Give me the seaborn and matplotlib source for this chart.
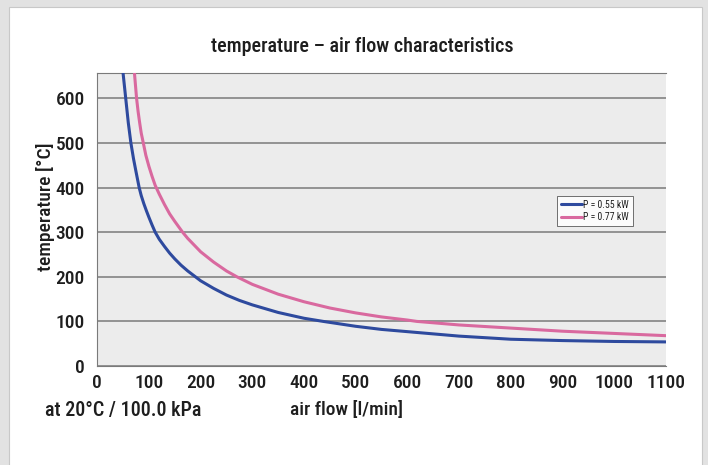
import pandas as pd
import seaborn as sns
import matplotlib.pyplot as plt
from matplotlib.patches import Rectangle

# values
flow_055 = [47, 50, 55, 60, 65, 70, 75, 81, 85, 90, 95, 100, 106, 112, 120, 130, 140, 150, 162, 175,
            200, 225, 250, 275, 300, 350, 400, 437, 500, 550, 600, 700, 800, 900, 1000, 1100]
temp_055 = [700, 655, 600, 545, 500, 465, 435, 400, 382, 364, 348, 333, 316, 300, 284, 268, 253, 240, 226, 213,
            191, 174, 159, 147, 137, 120, 107, 100, 89, 82, 77, 67, 60, 57, 55, 54]

flow_077 = [68, 72, 76, 79, 82, 85, 89, 94, 100, 106, 112, 120, 130, 140, 150, 165, 175, 200, 225, 250,
            270, 300, 350, 400, 450, 500, 550, 600, 618, 700, 800, 900, 1000, 1100]
temp_077 = [700, 655, 600, 570, 545, 522, 500, 472, 447, 425, 405, 385, 362, 341, 324, 300, 286, 256, 233, 213,
            200, 183, 161, 144, 130, 119, 110, 103, 100, 92, 85, 78, 73, 68]

labels = ['P = 0.55 kW', 'P = 0.77 kW']
colors = ['#2e4a9e', '#d9699f']

x_ticks = list(range(0, 1101, 100))
y_ticks = list(range(0, 601, 100))

df = pd.concat([
    pd.DataFrame({'flow': flow_055, 'temp': temp_055, 'power': labels[0]}),
    pd.DataFrame({'flow': flow_077, 'temp': temp_077, 'power': labels[1]}),
])

sns.set_style('white')
plt.rcParams['font.family'] = ['Roboto Condensed', 'Liberation Sans', 'DejaVu Sans']
text_col = '#1e1e1e'
fw = 'medium'

fig = plt.figure(figsize=(7.08, 4.65), dpi=100)
fig.patch.set_facecolor('#e2e2e2')
# white page panel behind everything
fig.patches.append(Rectangle((8.5 / 708, -0.01), (701.5 - 8.5) / 708, 1.01 - 7 / 465,
                             transform=fig.transFigure, facecolor='white',
                             edgecolor='#c8c8c8', lw=0.8, zorder=-5))

ax = fig.add_axes([97.3 / 708, 1 - 366 / 465, (665.7 - 97.3) / 708, (366 - 73.3) / 465])
ax.set_facecolor('#ececec')

sns.lineplot(data=df, x='flow', y='temp', hue='power', palette=colors, sort=False,
             estimator=None, lw=2.2, ax=ax, zorder=3)

ax.set_xlim(0, 1100)
ax.set_ylim(0, 656)
ax.set_xticks(x_ticks)
ax.set_yticks(y_ticks)
ax.set_xticklabels([str(v) for v in x_ticks], fontsize=14, color=text_col, fontweight=fw)
ax.set_yticklabels([str(v) for v in y_ticks], fontsize=14, color=text_col, fontweight=fw)
ax.tick_params(axis='x', length=4, width=0.8, color='#7a7a7a', pad=2, direction='out')
ax.tick_params(axis='y', length=4, width=0.8, color='#7a7a7a', pad=5, direction='out')
ax.yaxis.grid(True, color='#7a7a7a', lw=1.1)
ax.xaxis.grid(False)
ax.set_axisbelow(True)
for s in ['left', 'bottom', 'top']:
    ax.spines[s].set_color('#7a7a7a')
    ax.spines[s].set_linewidth(0.8)
ax.spines['right'].set_visible(False)

ax.set_xlabel('')
ax.set_ylabel('temperature [°C]', fontsize=14, color=text_col, fontweight=fw)
ax.yaxis.set_label_coords(-0.074, 0.545)

fig.text(362 / 708, 1 - 47 / 465, 'temperature – air flow characteristics', fontsize=14.5,
         color=text_col, fontweight=fw, ha='center', va='center')

fig.text(45 / 708, 1 - 410 / 465, 'at 20°C / 100.0 kPa', fontsize=14.5, color=text_col,
         fontweight=fw, ha='left', va='center')
fig.text(346 / 708, 1 - 410 / 465, 'air flow [l/min]', fontsize=14, color=text_col,
         fontweight=fw, ha='center', va='center')

leg = ax.legend(title=None, loc='upper left', bbox_to_anchor=(0.809, 0.582), fontsize=7,
                frameon=True, fancybox=False, handlelength=2.2, handletextpad=0.1,
                borderpad=0.4, labelspacing=0.3, borderaxespad=0)
leg.get_frame().set_edgecolor('#333333')
leg.get_frame().set_linewidth(0.6)
leg.get_frame().set_facecolor('white')
for t in leg.get_texts():
    t.set_color(text_col)

fig.savefig('out.png', dpi=100, facecolor=fig.get_facecolor())
